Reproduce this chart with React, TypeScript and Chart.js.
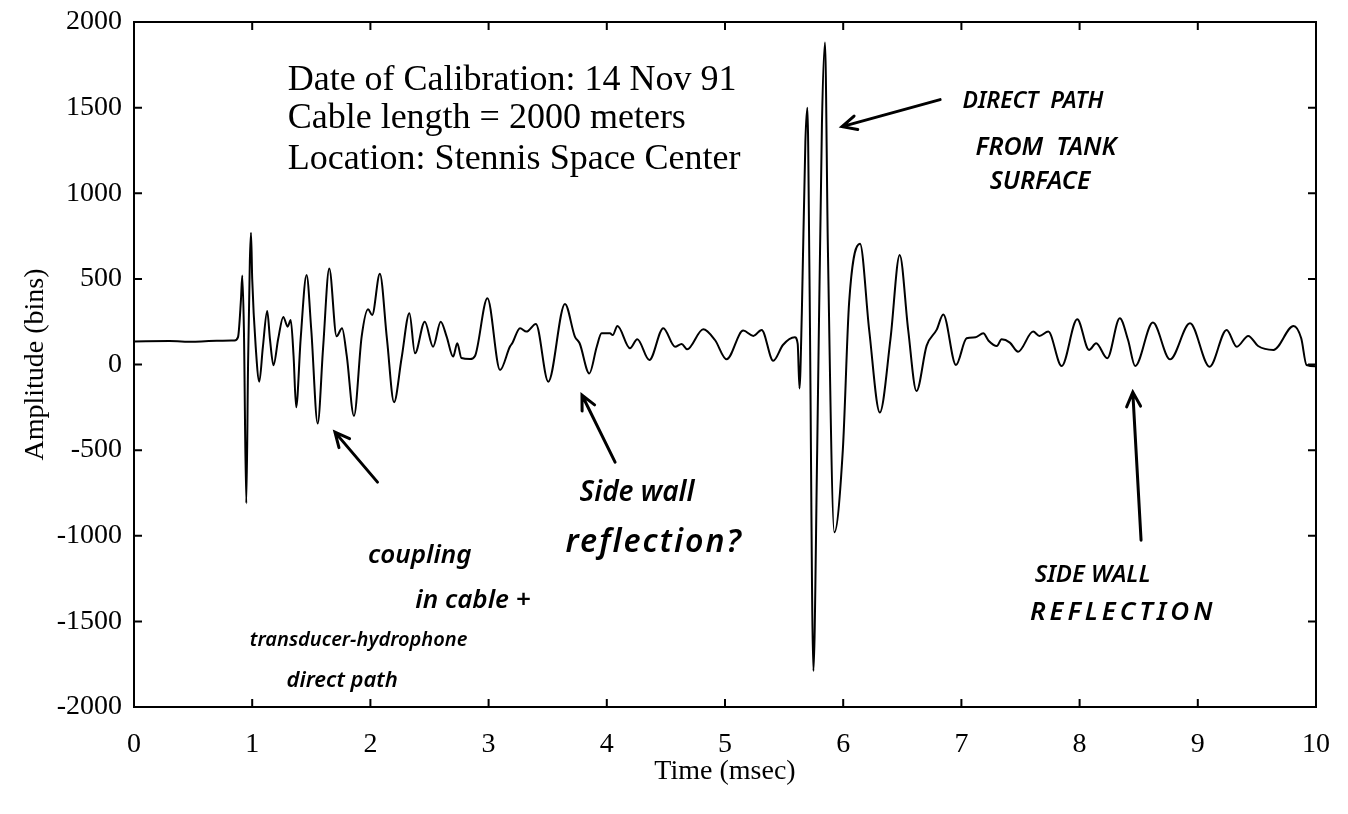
import React, { useEffect, useRef } from "react";
import { Chart, registerables } from "chart.js";

Chart.register(...registerables);

// ---- data ----
const timeMs = [
  0.0, 0.3, 0.5, 0.7, 0.85, 0.88, 0.905, 0.916, 0.93, 0.95, 0.965, 0.98, 0.99, 1.0, 1.03, 1.06, 1.09, 1.127,
  1.15, 1.18, 1.22, 1.263, 1.3, 1.326, 1.35, 1.372, 1.41, 1.46, 1.5, 1.554, 1.6, 1.652, 1.714, 1.76, 1.8,
  1.861, 1.926, 1.98, 2.015, 2.08, 2.14, 2.2, 2.264, 2.33, 2.377, 2.46, 2.53, 2.595, 2.645, 2.7, 2.735,
  2.77, 2.843, 2.885, 2.99, 3.097, 3.18, 3.2, 3.266, 3.32, 3.4, 3.505, 3.646, 3.73, 3.77, 3.852, 3.915,
  3.956, 4.027, 4.05, 4.09, 4.196, 4.258, 4.36, 4.478, 4.577, 4.633, 4.68, 4.816, 4.915, 5.014, 5.154,
  5.24, 5.31, 5.408, 5.49, 5.59, 5.615, 5.63, 5.65, 5.68, 5.697, 5.715, 5.748, 5.78, 5.82, 5.846, 5.87,
  5.925, 5.997, 6.05, 6.142, 6.22, 6.31, 6.4, 6.478, 6.55, 6.62, 6.706, 6.79, 6.847, 6.954, 7.044, 7.12,
  7.185, 7.23, 7.3, 7.34, 7.41, 7.48, 7.607, 7.66, 7.735, 7.848, 7.98, 8.08, 8.14, 8.234, 8.34, 8.41,
  8.47, 8.62, 8.765, 8.934, 9.1, 9.244, 9.33, 9.427, 9.51, 9.64, 9.81, 9.875, 9.92, 10.0,
];
const amplitudeBins = [
  135, 137, 133, 138, 140, 160, 380, 520, 200, -810, 0, 600, 770, 500, 100, -100, 100, 313,
  150, -5, 150, 278, 221, 260, 50, -250, 150, 523, 200, -345, 100, 560, 165, 212, 50,
  -300, 163, 323, 289, 530, 150, -220, 38, 300, 65, 250, 104, 250, 163, 46, 124,
  38, 32, 50, 387, -32, 104, 124, 212, 192, 237, -100, 354, 163, 124, -52, 104,
  182, 182, 172, 225, 95, 147, 26, 212, 104, 120, 89, 206, 143, 30, 198,
  167, 202, 22, 114, 159, 120, -140, 300, 1300, 1500, 500, -1790, -500, 1400, 1880, 700,
  -980, -497, 361, 705, 200, -280, 150, 640, 200, -155, 110, 202, 292, -3, 153, 159,
  182, 139, 108, 147, 128, 75, 192, 167, 192, -9, 264, 85, 124, 36, 270, 143,
  -9, 245, 30, 241, -13, 202, 104, 167, 108, 85, 225, 153, -3, -10,
];
const xTickValues = [0, 1, 2, 3, 4, 5, 6, 7, 8, 9, 10];
const yTickValues = [-2000, -1500, -1000, -500, 0, 500, 1000, 1500, 2000];

const infoLines = [
  "Date of Calibration: 14 Nov 91",
  "Cable length = 2000 meters",
  "Location: Stennis Space Center",
];
const infoAmps = [1604, 1382, 1140];

// handwritten notes, anchored in data units (time, amplitude)
const noteTexts = [
  "DIRECT  PATH", "FROM  TANK", "SURFACE",
  "coupling", "in cable +", "transducer-hydrophone", "direct path",
  "Side wall", "reflection?",
  "SIDE WALL", "REFLECTION",
];
const noteTimes = [7.01, 7.12, 7.24, 1.98, 2.38, 0.98, 1.29, 3.77, 3.65, 7.62, 7.58];
const noteAmps = [1535, 1266, 1067, -1114, -1377, -1611, -1845, -751, -1044, -1231, -1447];

const arrowFromT = [6.82, 2.06, 4.07, 8.52];
const arrowFromV = [1547, -687, -570, -1026];
const arrowToT = [5.99, 1.7, 3.79, 8.45];
const arrowToV = [1389, -395, -178, -161];

const SERIF = '"Liberation Serif", "Times New Roman", serif';
const HAND = '"Noto Sans", "DejaVu Sans", sans-serif';

const decorPlugin = {
  id: "decor",
  afterDraw(chart: any) {
    const ctx = chart.ctx;
    const { left, right, top, bottom } = chart.chartArea;
    const xs = chart.scales.x;
    const ys = chart.scales.y;
    ctx.save();
    ctx.strokeStyle = "#000";
    ctx.lineWidth = 2;
    ctx.strokeRect(left, top, right - left, bottom - top);
    const tl = 8;
    ctx.beginPath();
    xTickValues.forEach((t) => {
      const p = xs.getPixelForValue(t);
      ctx.moveTo(p, bottom);
      ctx.lineTo(p, bottom - tl);
      ctx.moveTo(p, top);
      ctx.lineTo(p, top + tl);
    });
    yTickValues.forEach((v) => {
      const p = ys.getPixelForValue(v);
      ctx.moveTo(left, p);
      ctx.lineTo(left + tl, p);
      ctx.moveTo(right, p);
      ctx.lineTo(right - tl, p);
    });
    ctx.stroke();

    // typed info block
    ctx.fillStyle = "#000";
    ctx.font = `36px ${SERIF}`;
    ctx.textBaseline = "alphabetic";
    ctx.textAlign = "left";
    const ix = xs.getPixelForValue(1.3);
    infoLines.forEach((line, i) => {
      ctx.fillText(line, ix, ys.getPixelForValue(infoAmps[i]));
    });

    // handwritten notes
    ctx.textBaseline = "middle";
    const sizes = [23, 25, 25, 26, 26, 20, 22, 28, 32, 24, 26];
    const spacing = [0, 0, 0, 0, 0, 0, 0, 0, 2, 0, 4];
    noteTexts.forEach((txt, i) => {
      ctx.font = `italic 600 ${sizes[i]}px ${HAND}`;
      (ctx as any).letterSpacing = `${spacing[i]}px`;
      ctx.fillText(txt, xs.getPixelForValue(noteTimes[i]), ys.getPixelForValue(noteAmps[i]));
    });
    (ctx as any).letterSpacing = "0px";

    // arrows
    ctx.lineWidth = 3;
    ctx.lineCap = "round";
    arrowFromT.forEach((_, i) => {
      const x1 = xs.getPixelForValue(arrowFromT[i]);
      const y1 = ys.getPixelForValue(arrowFromV[i]);
      const x2 = xs.getPixelForValue(arrowToT[i]);
      const y2 = ys.getPixelForValue(arrowToV[i]);
      const a = Math.atan2(y2 - y1, x2 - x1);
      const h = 16;
      ctx.beginPath();
      ctx.moveTo(x1, y1);
      ctx.lineTo(x2, y2);
      ctx.moveTo(x2 - h * Math.cos(a - 0.45), y2 - h * Math.sin(a - 0.45));
      ctx.lineTo(x2, y2);
      ctx.lineTo(x2 - h * Math.cos(a + 0.45), y2 - h * Math.sin(a + 0.45));
      ctx.stroke();
    });
    ctx.restore();
  },
};

export default function App() {
  const ref = useRef<HTMLCanvasElement | null>(null);
  useEffect(() => {
    if (!ref.current) return;
    const points = timeMs.map((t, i) => ({ x: t, y: amplitudeBins[i] }));
    const chart = new Chart(ref.current, {
      type: "line",
      data: {
        datasets: [
          {
            data: points,
            borderColor: "#000",
            borderWidth: 2,
            pointRadius: 0,
            cubicInterpolationMode: "monotone",
            fill: false,
          },
        ],
      },
      options: {
        animation: false,
        responsive: false,
        devicePixelRatio: 1,
        layout: { padding: { left: 0, top: 22, right: 32, bottom: 0 } },
        plugins: { legend: { display: false }, tooltip: { enabled: false } },
        scales: {
          x: {
            type: "linear",
            min: 0,
            max: 10,
            afterFit: (s: any) => {
              s.height = 107;
              s.paddingLeft = 0;
              s.paddingRight = 0;
            },
            afterBuildTicks: (s: any) => {
              s.ticks = xTickValues.map((v) => ({ value: v }));
            },
            grid: { display: false, drawTicks: false },
            border: { display: false },
            ticks: {
              padding: 21,
              color: "#000",
              font: { family: SERIF, size: 28 },
              callback: (v: any) => String(v),
            },
            title: {
              display: true,
              text: "Time (msec)",
              color: "#000",
              font: { family: SERIF, size: 28 },
              padding: { top: 0, bottom: 26 },
            },
          },
          y: {
            type: "linear",
            min: -2000,
            max: 2000,
            afterFit: (s: any) => {
              s.width = 134;
              s.paddingTop = 0;
              s.paddingBottom = 0;
            },
            afterBuildTicks: (s: any) => {
              s.ticks = yTickValues.map((v) => ({ value: v }));
            },
            grid: { display: false, drawTicks: false },
            border: { display: false },
            ticks: {
              padding: 12,
              color: "#000",
              font: { family: SERIF, size: 28 },
              callback: (v: any) => String(v),
            },
            title: {
              display: true,
              text: "Amplitude (bins)",
              color: "#000",
              font: { family: SERIF, size: 28 },
              padding: { top: 19, bottom: 0 },
            },
          },
        },
      },
      plugins: [decorPlugin],
    });
    return () => chart.destroy();
  }, []);
  return (
    <div style={{ position: "absolute", left: 0, top: 0, width: 1348, height: 814, background: "#fff" }}>
      <canvas ref={ref} width={1348} height={814} style={{ display: "block" }} />
    </div>
  );
}
